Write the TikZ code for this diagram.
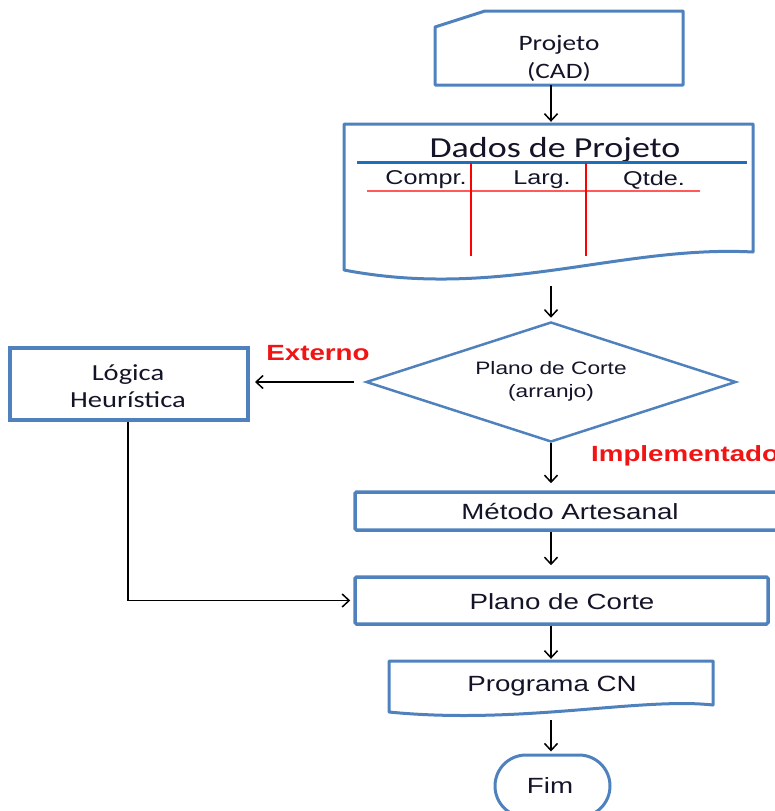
\documentclass[tikz,border=0pt]{standalone}
\usepackage{fontspec}
\setmainfont{Liberation Sans}[FakeStretch=1.26]
\newfontfamily\calfont{Carlito}[FakeStretch=1.24]
\usetikzlibrary{arrows.meta,shapes.geometric,shapes.misc}
\definecolor{boxblue}{RGB}{79,129,189}
\definecolor{ruleblue}{RGB}{30,110,190}
\definecolor{inkc}{RGB}{20,20,40}
\definecolor{lblred}{RGB}{240,20,20}
\begin{document}
\begin{tikzpicture}[x=1pt,y=-1pt,
  shp/.style={draw=boxblue,line width=3pt,line join=round},
  boxn/.style={draw=boxblue,line width=3.5pt,rounded corners=1.5pt,inner sep=0pt},
  ghost/.style={inner sep=0pt},
  txt/.style={text=inkc,align=center,inner sep=0pt},
  arialtxt/.style={txt,font=\fontsize{22}{27}\selectfont},
  caltxt/.style={txt,font=\calfont\fontsize{22}{28}\selectfont},
  redlbl/.style={text=lblred,inner sep=0pt,font=\bfseries\fontsize{22}{26}\selectfont},
  arr/.style={draw=black,line width=1.5pt,-{Straight Barb[length=7pt,width=13pt,line width=1.5pt]}}
]
\useasboundingbox (0,0) rectangle (775,811);
\clip (0,0) rectangle (775,811);
\coordinate (col) at (551,0);

% manual input: Projeto (CAD)
\draw[shp] (435,27) -- (485,11) -- (683,11) -- (683,85) -- (435,85) -- cycle;
\node[ghost,minimum width=248pt,minimum height=74pt] (proj) at (559,48) {};
\node[caltxt] (projt) at (559,58) {Projeto\\(CAD)};

% document: Dados de Projeto
\draw[shp] (344,124) -- (753,124) -- (753,252)
  .. controls (620,245) and (500,300) .. (344,270) -- cycle;
\node[ghost,minimum width=409pt,minimum height=148pt] (dados) at (548.5,198) {};
\node[txt,font=\calfont\fontsize{29}{34}\selectfont] (dadost) at (555,150) {Dados de Projeto};
\draw[ruleblue,line width=3pt] (357,162) -- (747,162);
\draw[red!65,line width=1.2pt] (367,191) -- (700,191);
\draw[red,line width=1.2pt] (471,163) -- (471,256);
\draw[red,line width=1.2pt] (586,163) -- (586,256);
\node[txt,font=\fontsize{20}{23}\selectfont] (hc) at (426,180) {Compr.};
\node[txt,font=\fontsize{20}{23}\selectfont] (hl) at (542,180) {Larg.};
\node[txt,font=\fontsize{20}{23}\selectfont] (hq) at (654,180) {Qtde.};

% decision
\node[diamond,draw=boxblue,line width=2.5pt,minimum width=370pt,minimum height=120pt,inner sep=0pt] (dec) at (551,382) {};
\node[txt,font=\fontsize{18}{23}\selectfont] (dect) at (551,381) {Plano de Corte\\(arranjo)};

% Logica Heuristica
\node[boxn,line width=4pt,rounded corners=0pt,minimum width=238pt,minimum height=72pt] (log) at (129,384) {};
\node[caltxt,font=\calfont\fontsize{23}{27}\selectfont] (logt) at (128,386) {Lógica\\Heurística};

% process boxes
\node[boxn,minimum width=430pt,minimum height=38pt] (met) at (570,511) {};
\node[arialtxt] (mett) at (570,512) {Método Artesanal};
\node[boxn,minimum width=413pt,minimum height=47pt] (plano) at (561.5,600.5) {};
\node[arialtxt] (planot) at (562,602) {Plano de Corte};

% document: Programa CN
\draw[shp] (389,661) -- (713,661) -- (713,705)
  .. controls (640,697) and (520,725) .. (389,712) -- cycle;
\node[ghost,minimum width=324pt,minimum height=56pt] (prog) at (551,689) {};
\node[arialtxt] (progt) at (552,686) {Programa CN};

% terminator
\node[rounded rectangle,draw=boxblue,line width=3pt,minimum width=115pt,minimum height=62pt,inner sep=0pt] (fim) at (552.5,786) {};
\node[arialtxt] (fimt) at (550,786) {Fim};

% labels
\node[redlbl] (ext) at (318,353) {Externo};
\node[redlbl,anchor=west] (impl) at (591,456) {Implementado};

% connectors
\draw[arr,shorten >=2pt] (proj.south -| col) -- (dados.north -| col);
\draw[arr,shorten <=14pt,shorten >=3pt] (dados.south -| col) -- (dec.north -| col);
\draw[arr,shorten <=11pt,shorten >=5pt] (dec.west) -- (dec.west -| log.east);
\draw[arr,shorten >=7pt] (dec.south -| col) -- (met.north -| col);
\draw[arr,shorten >=10pt] (met.south -| col) -- (plano.north -| col);
\draw[arr,shorten >=3pt] (log.south -| 128,0) |- (plano.west);
\draw[arr,shorten >=2pt] (plano.south -| col) -- (prog.north -| col);
\draw[arr,shorten <=3pt,shorten >=2pt] (prog.south -| col) -- (fim.north -| col);
\end{tikzpicture}
\end{document}
